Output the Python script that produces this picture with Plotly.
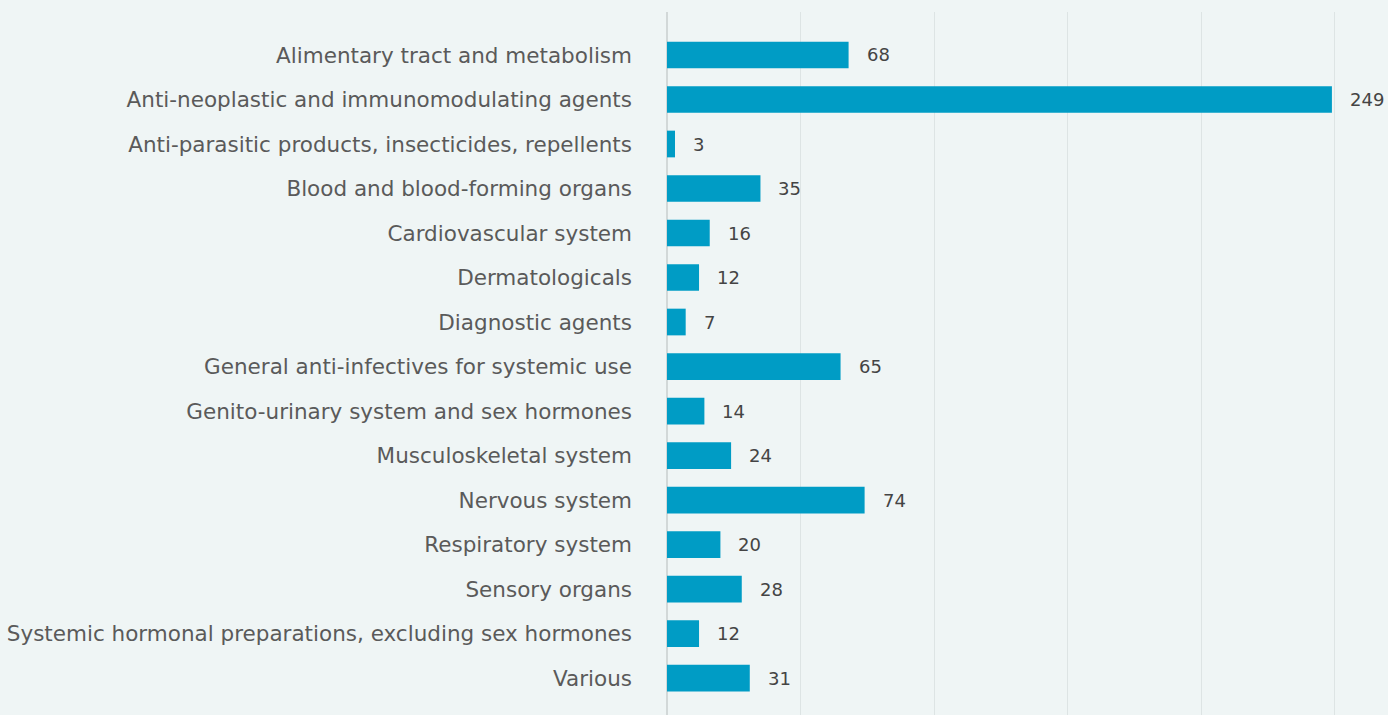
import plotly.graph_objects as go

categories = [
    "Alimentary tract and metabolism",
    "Anti-neoplastic and immunomodulating agents",
    "Anti-parasitic products, insecticides, repellents",
    "Blood and blood-forming organs",
    "Cardiovascular system",
    "Dermatologicals",
    "Diagnostic agents",
    "General anti-infectives for systemic use",
    "Genito-urinary system and sex hormones",
    "Musculoskeletal system",
    "Nervous system",
    "Respiratory system",
    "Sensory organs",
    "Systemic hormonal preparations, excluding sex hormones",
    "Various",
]
values = [68, 249, 3, 35, 16, 12, 7, 65, 14, 24, 74, 20, 28, 12, 31]

BG = "#eff5f5"
FONT = "DejaVu Sans, Verdana, sans-serif"
fig = go.Figure()
fig.add_trace(go.Bar(
    x=values, y=categories, orientation="h",
    marker=dict(color="#009cc5", line=dict(width=0)),
    hoverinfo="x+y",
))
for c, v in zip(categories, values):
    fig.add_annotation(x=v, y=c, text=str(v), showarrow=False,
                       xanchor="left", xshift=16, yshift=0,
                       font=dict(family=FONT, size=18, color="#444444"))

fig.update_layout(
    width=1388, height=715,
    paper_bgcolor=BG, plot_bgcolor=BG,
    margin=dict(l=667, r=0, t=12, b=0),
    bargap=0.4,
    showlegend=False,
    font=dict(family=FONT, size=21.5, color="#5a5a5a"),
)
fig.update_xaxes(range=[0, 270], dtick=50, showticklabels=False,
                 showgrid=True, gridcolor="#dde4e4", gridwidth=1,
                 zeroline=True, zerolinecolor="#d2d8d8", zerolinewidth=2,
                 showline=False)
fig.update_yaxes(range=[14.83, -0.966], showgrid=False, showline=False,
                 ticks="", ticklabelstandoff=34,
                 tickfont=dict(family=FONT, size=21.5, color="#5a5a5a"))

fig.write_html("out.html", config={"displayModeBar": False},
               post_script="document.body.style.margin='0';document.body.style.background='%s';" % BG)
